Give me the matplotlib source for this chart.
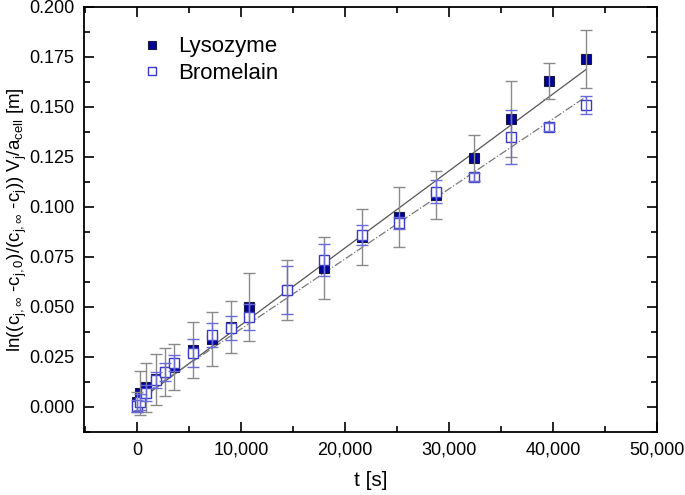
import numpy as np
import matplotlib
matplotlib.use('Agg')
import matplotlib.pyplot as plt
from matplotlib.ticker import MultipleLocator, FuncFormatter

plt.rcParams['font.family'] = ['Liberation Sans', 'DejaVu Sans']
plt.rcParams['mathtext.fontset'] = 'custom'
plt.rcParams['mathtext.rm'] = 'Liberation Sans'
plt.rcParams['mathtext.it'] = 'Liberation Sans'

# sampling times [s]
t = [0, 300, 900, 1800, 2700, 3600, 5400, 7200, 9000, 10800,
     14400, 18000, 21600, 25200, 28800, 32400, 36000, 39600, 43200]

lys_y = [0.0025, 0.0072, 0.0098, 0.0138, 0.0177, 0.0200, 0.0285, 0.0340, 0.0400, 0.0500,
         0.0587, 0.0695, 0.0850, 0.0950, 0.1060, 0.1245, 0.1440, 0.1630, 0.1740]
lys_err = [0.005, 0.011, 0.0124, 0.0127, 0.012, 0.0117, 0.014, 0.0135, 0.013, 0.017,
           0.015, 0.0155, 0.014, 0.015, 0.012, 0.0115, 0.019, 0.0089, 0.0143]

bro_y = [0.0005, 0.0027, 0.0072, 0.0135, 0.0177, 0.0220, 0.0270, 0.0360, 0.0397, 0.0448,
         0.0585, 0.0735, 0.0862, 0.0920, 0.1077, 0.1150, 0.1350, 0.1400, 0.1510]
bro_err = [0.003, 0.004, 0.004, 0.004, 0.0045, 0.004, 0.0068, 0.006, 0.006, 0.0065,
           0.012, 0.0078, 0.005, 0.003, 0.0056, 0.002, 0.0135, 0.002, 0.0043]

# linear fits (slope, intercept)
lys_fit = (3.85e-6, 0.0025)
bro_fit = (3.50e-6, 0.004)

fig = plt.figure(figsize=(6.85, 4.95), dpi=100)
ax = fig.add_axes([0.1226, 0.1273, 0.8364, 0.8586])

tt = np.array([t[0], t[-1]])
ax.plot(tt, lys_fit[0] * tt + lys_fit[1], color='#555555', lw=0.9, zorder=2)
ax.plot(tt, bro_fit[0] * tt + bro_fit[1], color='#777777', lw=0.9, ls='-.', zorder=2)

ax.plot(t, lys_y, 's', ms=7, mfc='#000099', mec='#1a1a40', mew=0.8, label='Lysozyme', zorder=3)
ax.plot(t, bro_y, 's', ms=7, mfc='white', mec='#3a3ac8', mew=1.0, label='Bromelain', zorder=4)

ax.errorbar(t, lys_y, yerr=lys_err, fmt='none', ecolor='#8a8a8a', elinewidth=1.0,
            capsize=4, capthick=1.0, zorder=5)
ax.errorbar(t, bro_y, yerr=bro_err, fmt='none', ecolor='#6a6ad8', elinewidth=1.0,
            capsize=4, capthick=1.0, zorder=6)

ax.set_xlim(-5100, 50000)
ax.set_ylim(-0.0125, 0.2)
ax.xaxis.set_major_locator(MultipleLocator(10000))
ax.xaxis.set_minor_locator(MultipleLocator(5000))
ax.yaxis.set_major_locator(MultipleLocator(0.025))
ax.yaxis.set_minor_locator(MultipleLocator(0.0125))
ax.xaxis.set_major_formatter(FuncFormatter(lambda v, p: '{:,.0f}'.format(v)))
ax.yaxis.set_major_formatter(FuncFormatter(lambda v, p: '{:.3f}'.format(v)))
ax.tick_params(which='both', direction='in', top=True, right=True, labelsize=13, width=1.2)
ax.tick_params(which='major', length=7, pad=7)
ax.tick_params(which='minor', length=4)
for s in ax.spines.values():
    s.set_linewidth(1.3)

ax.set_xlabel('t [s]', fontsize=15, labelpad=9)
ax.set_ylabel(r'ln((c$_{\mathrm{j,\infty}}$ -c$_{\mathrm{j,0}}$)/(c$_{\mathrm{j,\infty}}$ -c$_{\mathrm{j}}$)) '
              r'V$_{\mathrm{j}}$/a$_{\mathrm{cell}}$ [m]', fontsize=13.5)
ax.yaxis.set_label_coords(-0.096, 0.5)

ax.legend(loc='upper left', bbox_to_anchor=(0.06, 0.978), frameon=False, fontsize=16,
          handlelength=1.2, handletextpad=0.6, labelspacing=0.25, markerscale=0.75)

fig.savefig('out.png', dpi=100)
